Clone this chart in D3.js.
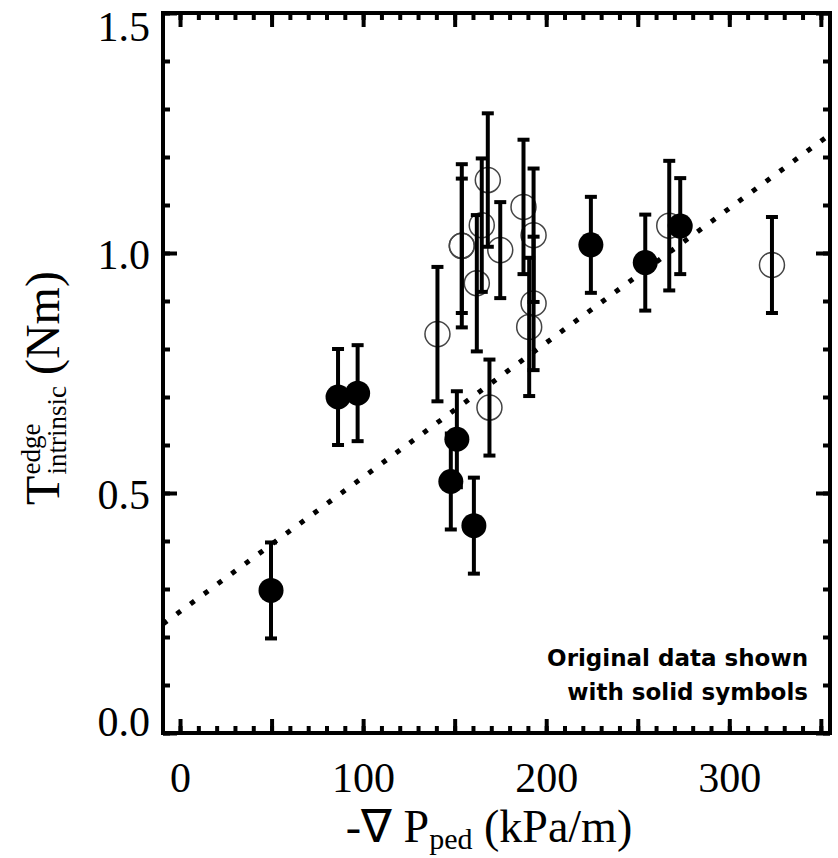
<!DOCTYPE html>
<html>
<head>
<meta charset="utf-8">
<script src="https://cdn.jsdelivr.net/npm/d3@7"></script>
<style>
  body { margin: 0; background: #fff; }
</style>
</head>
<body>
<div id="chart"></div>
<script>
// Original data (solid symbols)
const solidX   = [49.7, 86.3, 97.0, 147.9, 151.2, 160.5, 224.4, 254.1, 273.2];
const solidY   = [0.297, 0.700, 0.708, 0.524, 0.612, 0.432, 1.017, 0.980, 1.056];
const solidErr = [0.10, 0.10, 0.10, 0.10, 0.10, 0.10, 0.10, 0.10, 0.10];

// New data (open symbols)
const openX   = [140.6, 153.9, 153.9, 162.1, 164.8, 168.1, 169.0, 174.9, 187.6, 190.7, 193.1, 193.1, 267.2, 323.3];
const openY   = [0.831, 1.015, 1.015, 0.937, 1.058, 1.152, 0.678, 1.006, 1.096, 0.846, 1.037, 0.895, 1.057, 0.975];
const openErr = [0.14, 0.17, 0.14, 0.142, 0.139, 0.139, 0.10, 0.10, 0.14, 0.144, 0.139, 0.139, 0.135, 0.10];

// Dotted linear fit, end points
const fitX = [-9.3, 355];
const fitY = [0.227, 1.247];

// Ticks
const xMajorTicks = [0, 50, 100, 150, 200, 250, 300, 350];
const xTickLabels = [0, 100, 200, 300];
const yMajorTicks = [0.0, 0.5, 1.0, 1.5];
const xMinorStep = 10;
const yMinorStep = 0.1;

const W = 838, H = 858;
const frame = { left: 163, right: 830, top: 13, bottom: 733 };

const svg = d3.select("#chart")
  .append("svg")
    .attr("width", W)
    .attr("height", H);

const x = d3.scaleLinear().domain([-9.3, 355]).range([frame.left, frame.right]);
const y = d3.scaleLinear().domain([0, 1.5]).range([frame.bottom, frame.top]);

const xMinor = d3.range(0, 351, xMinorStep);
const yMinor = d3.range(0, 16).map(i => i * yMinorStep);

const serif = "Liberation Serif, Times New Roman, serif";

// tidy up an axis: ticks only, thick strokes
function ticksOnly(g) {
  g.select(".domain").remove();
  g.selectAll(".tick line").attr("stroke", "#000").attr("stroke-width", 4);
}

// minor ticks on all four sides
svg.append("g").attr("transform", `translate(0,${frame.bottom})`)
  .call(d3.axisBottom(x).tickValues(xMinor).tickSize(-7).tickFormat(""))
  .call(ticksOnly);
svg.append("g").attr("transform", `translate(0,${frame.top})`)
  .call(d3.axisTop(x).tickValues(xMinor).tickSize(-7).tickFormat(""))
  .call(ticksOnly);
svg.append("g").attr("transform", `translate(${frame.left},0)`)
  .call(d3.axisLeft(y).tickValues(yMinor).tickSize(-7).tickFormat(""))
  .call(ticksOnly);
svg.append("g").attr("transform", `translate(${frame.right},0)`)
  .call(d3.axisRight(y).tickValues(yMinor).tickSize(-7).tickFormat(""))
  .call(ticksOnly);

// major ticks + labels
const xAxis = svg.append("g").attr("transform", `translate(0,${frame.bottom})`)
  .call(d3.axisBottom(x).tickValues(xMajorTicks).tickSize(-14)
    .tickFormat(d => xTickLabels.includes(d) ? d : ""))
  .call(ticksOnly);
xAxis.selectAll("text")
  .attr("y", 59).attr("dy", 0)
  .attr("font-family", serif).attr("font-size", 42).attr("fill", "#000");

svg.append("g").attr("transform", `translate(0,${frame.top})`)
  .call(d3.axisTop(x).tickValues(xMajorTicks).tickSize(-14).tickFormat(""))
  .call(ticksOnly);

const yAxis = svg.append("g").attr("transform", `translate(${frame.left},0)`)
  .call(d3.axisLeft(y).tickValues(yMajorTicks).tickSize(-14).tickFormat(d3.format(".1f")))
  .call(ticksOnly);
yAxis.selectAll("text")
  .attr("x", -13)
  .attr("dy", d => d === 0 ? 2 : (d === 1.5 ? 27 : 15))
  .attr("font-family", serif).attr("font-size", 42).attr("fill", "#000");

svg.append("g").attr("transform", `translate(${frame.right},0)`)
  .call(d3.axisRight(y).tickValues(yMajorTicks).tickSize(-14).tickFormat(""))
  .call(ticksOnly);

// plot frame
svg.append("rect")
  .attr("x", frame.left).attr("y", frame.top)
  .attr("width", frame.right - frame.left)
  .attr("height", frame.bottom - frame.top)
  .attr("fill", "none").attr("stroke", "#000").attr("stroke-width", 4);

// dotted fit line
const fit = fitX.map((v, i) => [v, fitY[i]]);
svg.append("path")
  .datum(fit)
  .attr("fill", "none")
  .attr("stroke", "#000")
  .attr("stroke-width", 5)
  .attr("stroke-dasharray", "5 12")
  .attr("d", d3.line().x(d => x(d[0])).y(d => y(d[1])));

const openData = openX.map((v, i) => ({ x: v, y: openY[i], e: openErr[i] }));
const solidData = solidX.map((v, i) => ({ x: v, y: solidY[i], e: solidErr[i] }));

// open circles
svg.append("g").selectAll("circle")
  .data(openData).enter().append("circle")
    .attr("cx", d => x(d.x)).attr("cy", d => y(d.y)).attr("r", 12.5)
    .attr("fill", "none").attr("stroke", "#444").attr("stroke-width", 1.5);

// error bars
function errorBars(data) {
  const g = svg.append("g").selectAll("g").data(data).enter().append("g");
  g.append("line")
    .attr("x1", d => x(d.x)).attr("x2", d => x(d.x))
    .attr("y1", d => y(d.y - d.e)).attr("y2", d => y(d.y + d.e))
    .attr("stroke", "#000").attr("stroke-width", 4);
  [-1, 1].forEach(s => {
    g.append("line")
      .attr("x1", d => x(d.x) - 6).attr("x2", d => x(d.x) + 6)
      .attr("y1", d => y(d.y + s * d.e)).attr("y2", d => y(d.y + s * d.e))
      .attr("stroke", "#000").attr("stroke-width", 4);
  });
}
errorBars(openData);
errorBars(solidData);

// solid circles
svg.append("g").selectAll("circle")
  .data(solidData).enter().append("circle")
    .attr("cx", d => x(d.x)).attr("cy", d => y(d.y)).attr("r", 12.5)
    .attr("fill", "#000");

// x axis title
const xt = svg.append("text")
  .attr("x", 489).attr("y", 842)
  .attr("text-anchor", "middle")
  .attr("font-family", serif).attr("font-size", 46).attr("fill", "#000");
xt.append("tspan").text("-\u2207 P");
xt.append("tspan").attr("font-size", 30).attr("dy", 7).text("ped");
xt.append("tspan").attr("dy", -7).text(" (kPa/m)");

// y axis title (rotated, stacked super/subscript)
const yTitle = svg.append("g")
  .attr("transform", "translate(59,388) rotate(-90)")
  .attr("font-family", serif).attr("fill", "#000");
const tMain = yTitle.append("text").attr("font-size", 48).text("T");
const tw = tMain.node().getComputedTextLength();
const sup = yTitle.append("text").attr("x", tw + 1).attr("y", -19).attr("font-size", 27).text("edge");
const sub = yTitle.append("text").attr("x", tw + 1).attr("y", 7).attr("font-size", 27).text("intrinsic");
const sw = Math.max(sup.node().getComputedTextLength(), sub.node().getComputedTextLength());
const unit = yTitle.append("text").attr("x", tw + sw + 12).attr("font-size", 48).text("(Nm)");
const total = tw + sw + 12 + unit.node().getComputedTextLength();
yTitle.selectAll("text").attr("transform", `translate(${-total / 2},0)`);

// annotation
const note = svg.append("text")
  .attr("text-anchor", "end")
  .attr("font-family", "DejaVu Sans, sans-serif")
  .attr("font-weight", "bold").attr("font-size", 23).attr("fill", "#000");
note.append("tspan").attr("x", 808).attr("y", 666).text("Original data shown");
note.append("tspan").attr("x", 808).attr("y", 700).text("with solid symbols");
</script>
</body>
</html>
